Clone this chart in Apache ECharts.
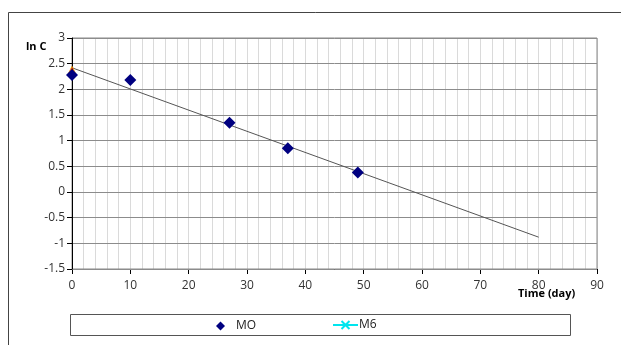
<!DOCTYPE html>
<html><head><meta charset="utf-8">
<script src="https://cdn.jsdelivr.net/npm/echarts@6/dist/echarts.min.js"></script>
<style>html,body{margin:0;padding:0;background:#fff}#c{width:621px;height:345px}</style>
</head><body><div id="c"></div>
<script>
var moX = [0, 10, 27, 37, 49];
var moY = [2.28, 2.18, 1.35, 0.85, 0.38];
var trendX = [0, 80];
var trendY = [2.42, -0.88];
var redX = [0];
var redY = [2.37];
var xTicks = [0, 10, 20, 30, 40, 50, 60, 70, 80, 90];
var yTicks = [-1.5, -1, -0.5, 0, 0.5, 1, 1.5, 2, 2.5, 3];

function pairs(xs, ys){ return xs.map(function(x,i){ return [x, ys[i]]; }); }
var FONT = '"Open Sans", "Liberation Sans", sans-serif';
var xPath = 'path://M0,0L10,10M10,0L0,10';

var chart = echarts.init(document.getElementById('c'), null, {renderer:'canvas'});
chart.setOption({
  animation: false,
  textStyle: {fontFamily: FONT},
  grid: {left: 72, right: 24, top: 38, bottom: 76, show: true, borderColor: '#888', borderWidth: 1},
  xAxis: [{
    type: 'value', min: xTicks[0], max: xTicks[xTicks.length-1], interval: 10,
    axisLine: {onZero: false, lineStyle: {color: '#000', width: 1}},
    axisTick: {show: true, inside: false, length: 5, lineStyle: {color: '#000'}},
    axisLabel: {color: '#333', fontSize: 12, margin: 11, fontFamily: FONT},
    splitLine: {show: false}
  }, {
    type: 'value', position: 'bottom', min: xTicks[0], max: xTicks[xTicks.length-1], interval: 2,
    axisLine: {show: false}, axisTick: {show: false}, axisLabel: {show: false},
    splitLine: {show: true, lineStyle: {color: '#dadada', width: 1}}, z: -1
  }],
  yAxis: {
    type: 'value', min: yTicks[0], max: yTicks[yTicks.length-1], interval: 0.5,
    axisLine: {show: true, onZero: false, lineStyle: {color: '#000', width: 1}},
    axisTick: {show: true, inside: false, length: 5, lineStyle: {color: '#000'}},
    axisLabel: {color: '#333', fontSize: 12, margin: 7, fontFamily: FONT},
    splitLine: {show: true, lineStyle: {color: '#8c8c8c', width: 1}},
    z: 1
  },
  legend: [
    {data: [{name: 'MO', icon: 'diamond'}], left: 216, top: 320, padding: 0, itemWidth: 9, itemHeight: 9,
     textStyle: {fontSize: 12, color: '#222', fontFamily: FONT, padding: [0, 0, 0, 6]}, selectedMode: false},
    {data: ['M6'], left: 332, top: 319, padding: 0, itemWidth: 25, itemHeight: 10,
     textStyle: {fontSize: 12, color: '#222', fontFamily: FONT, padding: [0, 0, 0, -4]}, selectedMode: false}
  ],
  graphic: [
    {type: 'rect', shape: {x: 8.5, y: 12.5, width: 640, height: 360}, style: {fill: 'none', stroke: '#444', lineWidth: 1}, z: -1, silent: true},
    {type: 'rect', shape: {x: 70.5, y: 314.5, width: 500, height: 21}, style: {fill: 'none', stroke: '#555', lineWidth: 1}, z: -1, silent: true},
    {type: 'text', left: 26, top: 41, style: {text: 'ln C', font: 'bold 11px ' + FONT, fill: '#000'}},
    {type: 'text', left: 518, top: 288, style: {text: 'Time (day)', font: 'bold 11px ' + FONT, fill: '#000'}}
  ],
  series: [
    {name: 'trend', type: 'line', data: pairs(trendX, trendY), symbol: 'none',
     lineStyle: {color: '#555', width: 1}, z: 3, silent: true},
    {name: 'red', type: 'scatter', data: pairs(redX, redY), symbol: 'triangle', symbolSize: 8,
     itemStyle: {color: '#c00000', borderColor: '#f0a000', borderWidth: 1}, z: 4},
    {name: 'MO', type: 'scatter', data: pairs(moX, moY), symbol: 'diamond', symbolSize: 12,
     itemStyle: {color: '#000080', opacity: 1}, z: 5},
    {name: 'M6', type: 'line', data: [], symbol: xPath, symbolSize: 7, showSymbol: true,
     itemStyle: {color: '#00e5ee', borderColor: '#00e5ee', borderWidth: 1}, lineStyle: {color: '#00e5ee', width: 1}}
  ]
});
</script></body></html>
